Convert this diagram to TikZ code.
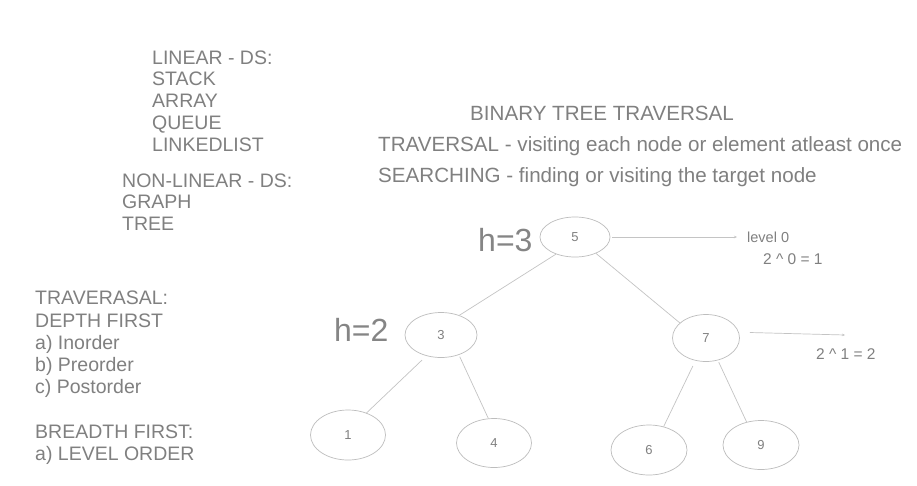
\documentclass[tikz,border=0pt]{standalone}
\usepackage{fontspec}
\setmainfont{Liberation Sans}
\usetikzlibrary{shapes.geometric,arrows.meta}
\definecolor{txtgray}{HTML}{808080}
\definecolor{hgray}{HTML}{858585}
\definecolor{linegray}{HTML}{C4C4C4}
\definecolor{ellgray}{HTML}{BDBDBD}
\tikzset{
  txt/.style={anchor=base west, inner sep=0pt, text=txtgray, font=\fontsize{19.5}{22}\selectfont},
  headtxt/.style={anchor=base west, inner sep=0pt, text=txtgray, font=\fontsize{20.6}{23}\selectfont},
  smalltxt/.style={anchor=base west, inner sep=0pt, text=txtgray, font=\fontsize{14.5}{17}\selectfont},
  eqtxt/.style={anchor=base west, inner sep=0pt, text=txtgray, font=\fontsize{15.5}{17}\selectfont},
  htxt/.style={anchor=base west, inner sep=0pt, text=hgray, font=\fontsize{32}{36}\selectfont},
  tnode/.style={ellipse, draw=ellgray, line width=0.7pt, inner sep=0pt, text=txtgray, font=\fontsize{13}{15}\selectfont},
  edge/.style={draw=linegray, line width=0.7pt},
  pointer/.style={draw=linegray, line width=0.7pt, -{Stealth[length=3pt,width=2.5pt]}}
}
\begin{document}
\begin{tikzpicture}[x=1pt,y=-1pt]
\useasboundingbox (0,0) rectangle (917,485);
\fill[white] (0,0) rectangle (917,485);

% left texts
\node[txt] (l1) at (152,64) {LINEAR - DS:};
\node[txt] (l2) at (152,85) {STACK};
\node[txt] (l3) at (152,107) {ARRAY};
\node[txt] (l4) at (152,129) {QUEUE};
\node[txt] (l5) at (152,151) {LINKEDLIST};
\node[txt] (n1) at (122,187) {NON-LINEAR - DS:};
\node[txt] (n2) at (122,208) {GRAPH};
\node[txt] (n3) at (122,230) {TREE};
\node[txt] (t1) at (35,304) {TRAVERASAL:};
\node[txt] (t2) at (35,327) {DEPTH FIRST};
\node[txt] (t3) at (35,349) {a) Inorder};
\node[txt] (t4) at (35,371) {b) Preorder};
\node[txt] (t5) at (35,393) {c) Postorder};
\node[txt] (t6) at (35,438) {BREADTH FIRST:};
\node[txt] (t7) at (35,460) {a) LEVEL ORDER};

% headings
\node[headtxt] (h1) at (470,120) {BINARY TREE TRAVERSAL};
\node[headtxt] (h2) at (378,151) {TRAVERSAL - visiting each node or element atleast once};
\node[headtxt] (h3) at (378,182) {SEARCHING - finding or visiting the target node};

% heights
\node[htxt] (hh3) at (478,251) {h=3};
\node[htxt] (hh2) at (334,341) {h=2};

% tree nodes
\node[tnode, minimum width=70pt, minimum height=40pt] (v5) at (575,237) {5};
\node[tnode, minimum width=72pt, minimum height=45pt] (v3) at (441,335) {3};
\node[tnode, minimum width=67pt, minimum height=47pt] (v7) at (706,338) {7};
\node[tnode, minimum width=75pt, minimum height=50pt] (v1) at (348,435) {1};
\node[tnode, minimum width=75pt, minimum height=49pt] (v4) at (494,443) {4};
\node[tnode, minimum width=76pt, minimum height=50pt] (v6) at (649,450) {6};
\node[tnode, minimum width=76pt, minimum height=49pt] (v9) at (761,445) {9};

% edges
\draw[edge] (v5.222) -- (v3.47);
\draw[edge] (v5.322) -- (v7.150);
\draw[edge, shorten <=6pt] (v3.235) -- (v1.50);
\draw[edge, shorten <=2pt] (v3.312) -- (v4.103);
\draw[edge, shorten <=6pt] (v7.245) -- (v6.58);
\draw[edge, shorten <=2pt] (v7.298) -- (v9.122);

% level annotations
\coordinate (e0) at (737,237);
\coordinate (e1) at (845,335);
\draw[pointer, shorten <=2pt] (v5.east) -- (e0);
\draw[pointer, shorten <=11pt] (v7.10) -- (e1);
\node[smalltxt] (lv0) at (747,242) {level 0};
\node[eqtxt] (p0) at (763,264) {2 \^{} 0 = 1};
\node[eqtxt] (p1) at (816,359) {2 \^{} 1 = 2};
\end{tikzpicture}
\end{document}
